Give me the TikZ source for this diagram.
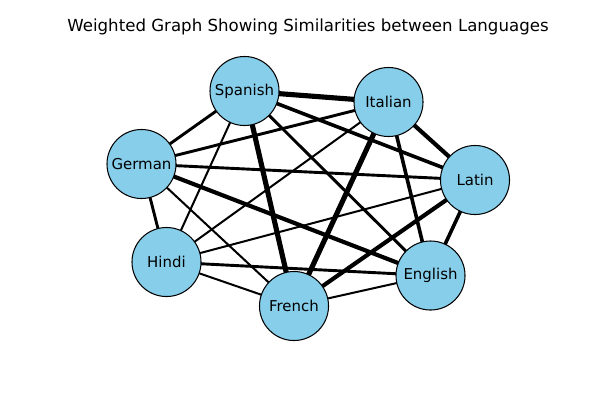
\documentclass[tikz,border=0pt]{standalone}
\usepackage{fontspec}
\setmainfont{DejaVu Sans}
\usetikzlibrary{backgrounds}
\definecolor{skyblue}{HTML}{87CEEB}
\tikzset{
  lang/.style={circle, draw=black, line width=0.75pt, fill=skyblue, minimum size=0.69in, inner sep=0pt, font=\fontsize{10.8}{13}\selectfont},
  wA/.style={line width=1.45pt},
  wB/.style={line width=2.1pt},
  wC/.style={line width=2.6pt},
  wD/.style={line width=3.0pt},
  wE/.style={line width=3.7pt},
}
\begin{document}
\begin{tikzpicture}[x=0.01in, y=-0.01in]
\useasboundingbox (0,0) rectangle (600,400);
\node[font=\fontsize{12}{14}\selectfont] (title) at (308,27) {Weighted Graph Showing Similarities between Languages};
\node[lang] (sp) at (244.5,91) {Spanish};
\node[lang] (it) at (388.5,102) {Italian};
\node[lang] (la) at (475,180) {Latin};
\node[lang] (en) at (430.5,275.5) {English};
\node[lang] (fr) at (294,306) {French};
\node[lang] (hi) at (166.5,262) {Hindi};
\node[lang] (de) at (141.5,164) {German};
\begin{pgfonlayer}{background}
\draw[wE] (sp.center) -- (it.center);
\draw[wE] (sp.center) -- (fr.center);
\draw[wE] (it.center) -- (fr.center);
\draw[wD] (it.center) -- (la.center);
\draw[wD] (de.center) -- (en.center);
\draw[wD] (la.center) -- (fr.center);
\draw[wC] (sp.center) -- (la.center);
\draw[wB] (sp.center) -- (de.center);
\draw[wB] (sp.center) -- (en.center);
\draw[wB] (it.center) -- (de.center);
\draw[wC] (it.center) -- (en.center);
\draw[wB] (de.center) -- (la.center);
\draw[wB] (de.center) -- (hi.center);
\draw[wC] (la.center) -- (en.center);
\draw[wB] (hi.center) -- (en.center);
\draw[wA] (sp.center) -- (hi.center);
\draw[wA] (it.center) -- (hi.center);
\draw[wA] (de.center) -- (fr.center);
\draw[wA] (la.center) -- (hi.center);
\draw[wA] (hi.center) -- (fr.center);
\draw[wA] (fr.center) -- (en.center);
\end{pgfonlayer}
\end{tikzpicture}
\end{document}
